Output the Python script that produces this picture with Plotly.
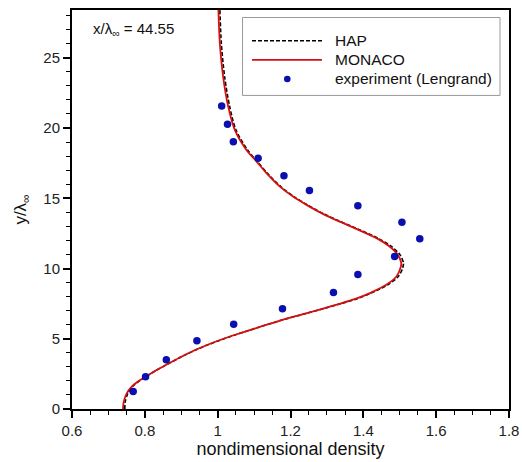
import plotly.graph_objects as go

# MONACO (red solid)
monaco_x = [0.740, 0.742, 0.750, 0.764, 0.782, 0.802, 0.830, 0.859, 0.900, 0.943,
            0.990, 1.044, 1.110, 1.178, 1.230, 1.280, 1.330, 1.380, 1.418, 1.463,
            1.491, 1.502, 1.504, 1.495, 1.472, 1.436, 1.381, 1.335, 1.289, 1.244,
            1.207, 1.171, 1.134, 1.107, 1.079, 1.047, 1.029, 1.015, 1.006, 1.002]
monaco_y = [0.0, 0.5, 1.1, 1.6, 1.98, 2.30, 2.74, 3.15, 3.72, 4.25,
            4.75, 5.25, 5.80, 6.35, 6.72, 7.08, 7.45, 7.85, 8.25, 8.84,
            9.43, 10.03, 10.40, 10.97, 11.57, 12.16, 12.82, 13.34, 13.89, 14.53,
            15.12, 15.83, 16.79, 17.61, 18.44, 19.87, 21.52, 23.66, 26.03, 28.4]

# HAP (black dashed)
hap_x = [0.745, 0.746, 0.753, 0.766, 0.784, 0.803, 0.831, 0.860, 0.901, 0.944,
         0.991, 1.045, 1.111, 1.179, 1.231, 1.282, 1.332, 1.383, 1.421, 1.467,
         1.496, 1.508, 1.510, 1.501, 1.477, 1.440, 1.384, 1.337, 1.291, 1.246,
         1.209, 1.173, 1.136, 1.109, 1.082, 1.050, 1.033, 1.019, 1.010, 1.006]
hap_y = monaco_y[:]

# experiment (Lengrand)
exp_x = [0.768, 0.802, 0.859, 0.943, 1.044, 1.178, 1.318, 1.385, 1.486, 1.555,
         1.506, 1.385, 1.252, 1.182, 1.111, 1.043, 1.027, 1.011]
exp_y = [1.25, 2.30, 3.50, 4.86, 6.04, 7.13, 8.30, 9.57, 10.85, 12.11,
         13.30, 14.46, 15.55, 16.61, 17.85, 19.03, 20.27, 21.57]

x_ticks = [0.6, 0.8, 1.0, 1.2, 1.4, 1.6, 1.8]
x_ticklabels = ["0.6", "0.8", "1", "1.2", "1.4", "1.6", "1.8"]
y_ticks = [0, 5, 10, 15, 20, 25]

FONT = "Liberation Sans, Arial, sans-serif"
RED = "#d41010"
BLUE = "#0a0fb0"

fig = go.Figure()
fig.add_trace(go.Scatter(x=hap_x, y=hap_y, mode="lines", line_shape="spline",
                         line=dict(color="black", width=1.6, dash="4px,2px", smoothing=0.8), name="HAP"))
fig.add_trace(go.Scatter(x=monaco_x, y=monaco_y, mode="lines", line_shape="spline",
                         line=dict(color=RED, width=1.8, smoothing=0.8), name="MONACO"))
fig.add_trace(go.Scatter(x=exp_x, y=exp_y, mode="markers",
                         marker=dict(color=BLUE, size=7.5), name="experiment (Lengrand)"))

axis_common = dict(
    showgrid=False, zeroline=False, showline=True, linecolor="black", linewidth=2,
    mirror=True, ticks="outside", ticklen=7, tickwidth=1.5, tickcolor="black",
    tickfont=dict(family=FONT, size=15, color="#222"), automargin=False,
)
fig.update_xaxes(range=[0.6, 1.8], tickvals=x_ticks, ticktext=x_ticklabels,
                 minor=dict(dtick=0.05, ticks="outside", ticklen=4, tickcolor="black", tickwidth=1),
                 title=dict(text="nondimensional density", font=dict(family=FONT, size=18, color="#111"),
                            standoff=4),
                 **axis_common)
fig.update_yaxes(range=[0, 28.4], tickvals=y_ticks,
                 minor=dict(dtick=1, ticks="outside", ticklen=4, tickcolor="black", tickwidth=1),
                 title=dict(text="y/λ<sub>∞</sub>", font=dict(family=FONT, size=17, color="#111"),
                            standoff=12),
                 **axis_common)

# manual legend (paper coordinates)
def px2x(px):
    return (px - 72) / 437.0

def py2y(py):
    return (409.3 - py) / 399.3

shapes = [
    dict(type="rect", xref="paper", yref="paper", x0=px2x(242.5), x1=px2x(500), y0=py2y(95.5), y1=py2y(17.5),
         line=dict(color="#999", width=1), fillcolor="white", layer="above"),
    dict(type="line", xref="paper", yref="paper", x0=px2x(252), x1=px2x(322), y0=py2y(40.7), y1=py2y(40.7),
         line=dict(color="black", width=1.6, dash="4px,2px"), layer="above"),
    dict(type="line", xref="paper", yref="paper", x0=px2x(252), x1=px2x(322), y0=py2y(60), y1=py2y(60),
         line=dict(color=RED, width=1.8), layer="above"),
    dict(type="circle", xref="paper", yref="paper", x0=px2x(287.3 - 3.3), x1=px2x(287.3 + 3.3),
         y0=py2y(79 + 3.3), y1=py2y(79 - 3.3), line=dict(width=0), fillcolor=BLUE, layer="above"),
]
annotations = [
    dict(xref="paper", yref="paper", x=px2x(333), y=py2y(40.7), text="HAP", showarrow=False,
         xanchor="left", yanchor="middle", font=dict(family=FONT, size=15.5, color="#111")),
    dict(xref="paper", yref="paper", x=px2x(333), y=py2y(60), text="MONACO", showarrow=False,
         xanchor="left", yanchor="middle", font=dict(family=FONT, size=15.5, color="#111")),
    dict(xref="paper", yref="paper", x=px2x(333), y=py2y(79), text="experiment (Lengrand)", showarrow=False,
         xanchor="left", yanchor="middle", font=dict(family=FONT, size=15.5, color="#111")),
    dict(xref="paper", yref="paper", x=px2x(91), y=py2y(30), text="x/λ<sub>∞</sub> = 44.55", showarrow=False,
         xanchor="left", yanchor="middle", font=dict(family=FONT, size=15, color="#111")),
]

fig.update_layout(
    width=522, height=462,
    margin=dict(l=72, r=13, t=10, b=52.7, autoexpand=False),
    paper_bgcolor="white", plot_bgcolor="white",
    showlegend=False,
    shapes=shapes, annotations=annotations,
)

fig.write_html("out.html")
